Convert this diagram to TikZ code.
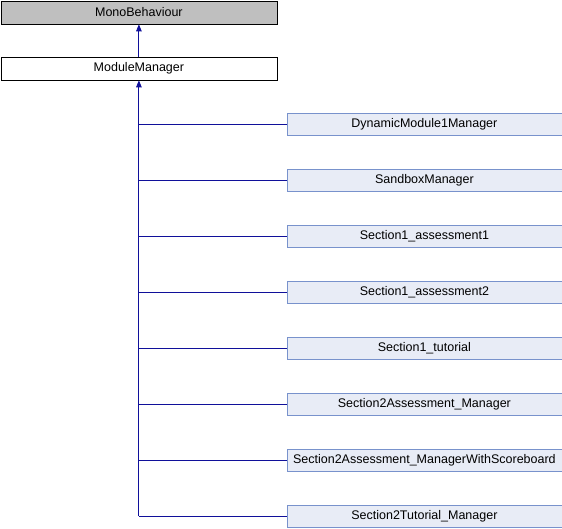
\documentclass[tikz,border=0pt]{standalone}
\usepackage{fontspec}
\setmainfont{Liberation Sans}
\usetikzlibrary{arrows.meta}
\definecolor{edgeblue}{RGB}{16,16,154}
\definecolor{childfill}{RGB}{232,236,246}
\definecolor{childdraw}{RGB}{120,146,204}
\definecolor{basefill}{RGB}{191,191,191}
\begin{document}
\begin{tikzpicture}[x=1pt,y=-1pt,
  font=\fontsize{12.5}{14}\selectfont,
  cls/.style={draw=black, line width=0.8pt, minimum width=276pt, minimum height=23pt, inner sep=0pt, anchor=north west},
  basecls/.style={cls, fill=basefill},
  rootcls/.style={cls, fill=white},
  child/.style={draw=childdraw, fill=childfill, line width=0.8pt, minimum width=275pt, minimum height=22pt, inner sep=0pt, anchor=north west},
  inherit/.style={draw=edgeblue, line width=0.9pt},
  tip/.style={-{Triangle[length=7pt,width=5.5pt]}}]
\useasboundingbox (0,0) rectangle (562,528);
\node[basecls] (mono) at (0.5,0.5) {MonoBehaviour};
\node[rootcls] (mm) at (0.5,56.5) {ModuleManager};
\draw[inherit,tip] (mm.north) -- (mono.south);

\node[child] (c1) at (286.5,113) {DynamicModule1Manager};
\node[child] (c2) at (286.5,169) {SandboxManager};
\node[child] (c3) at (286.5,225) {Section1\_assessment1};
\node[child] (c4) at (286.5,281) {Section1\_assessment2};
\node[child] (c5) at (286.5,337) {Section1\_tutorial};
\node[child] (c6) at (286.5,393) {Section2Assessment\_Manager};
\node[child] (c7) at (286.5,449) {Section2Assessment\_ManagerWithScoreboard};
\node[child] (c8) at (286.5,505) {Section2Tutorial\_Manager};

\coordinate (trunk) at (mm.south |- c8.west);
\draw[inherit,tip] (trunk) -- (mm.south);
\foreach \c in {c1,c2,c3,c4,c5,c6,c7,c8}
  \draw[inherit] (mm.south |- \c.west) -- (\c.west);
\end{tikzpicture}
\end{document}
